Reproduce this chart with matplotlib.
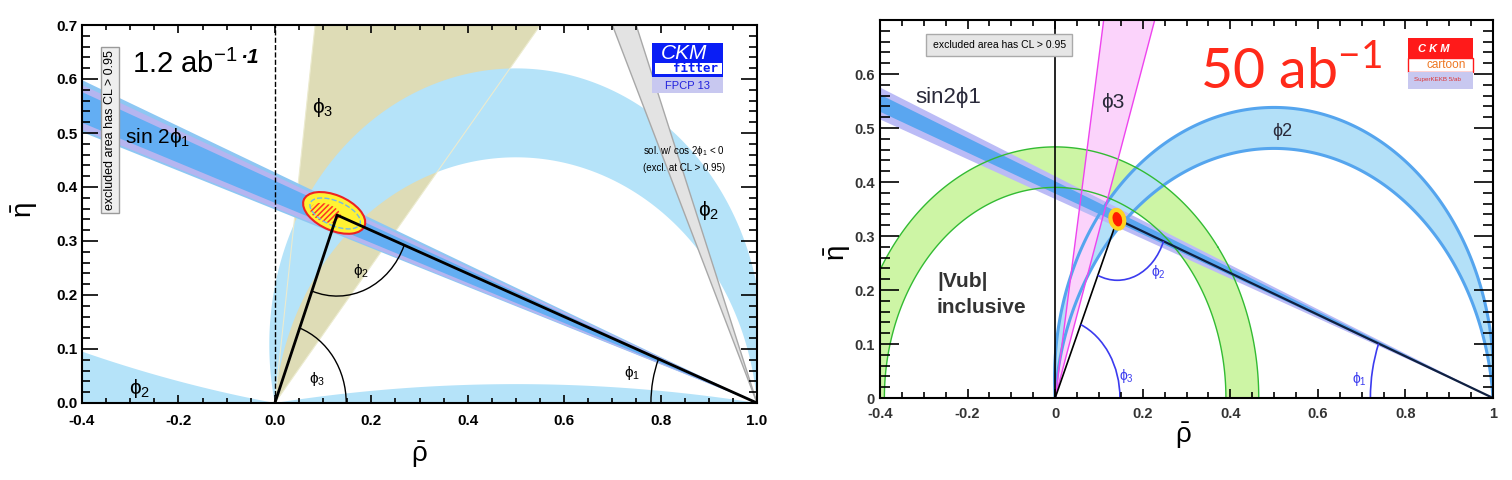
import numpy as np
import matplotlib.pyplot as plt
from matplotlib.patches import Ellipse, Arc, Rectangle
from matplotlib.ticker import MultipleLocator

plt.rcParams['font.family'] = ['Liberation Sans', 'DejaVu Sans']
plt.rcParams['mathtext.fontset'] = 'dejavusans'
plt.rcParams['mathtext.default'] = 'regular'
plt.rcParams['hatch.linewidth'] = 1.1

# ---------------- values ----------------
# left panel (CKMfitter style), constraints as angle ranges in degrees
L_apex = (0.129, 0.348)
L_phi1_bands = [(19.72, 23.13), (19.87, 22.82), (20.34, 22.36)]
L_phi1_colors = ['#8ec7f3', '#b5b5f0', '#63aef3']
L_phi1_mirror = (66.8, 70.3)
L_phi2_ranges = [(-0.1, 9.5), (172.0, 180.1)]
L_phi2_main = (77.8, 95.4)
L_phi3_range = (51.8, 83.2)
L_fit_center, L_fit_size = (0.123, 0.352), (0.135, 0.066)
L_fit1s_center, L_fit1s_size = (0.105, 0.352), (0.065, 0.034)
L_arc_r = [0.148, 0.15, 0.22]          # phi3, phi2, phi1

# right panel (CKM cartoon, 50 ab^-1)
R_apex = (0.142, 0.331)
R_phi1_bands = [(20.23, 22.33), (20.74, 21.87)]
R_phi1_colors = ['#bbbbf6', '#5aa6f0']
R_phi2_range = (85.8, 94.5)
R_phi3_range = (72.0, 81.0)
R_vub_range = (0.39, 0.465)
R_dot_size = (0.030, 0.036)
R_arc_r = [0.148, 0.113, 0.28]

L_xticklabels = ['-0.4', '-0.2', '0.0', '0.2', '0.4', '0.6', '0.8', '1.0']
L_yticklabels = ['0.0', '0.1', '0.2', '0.3', '0.4', '0.5', '0.6', '0.7']
R_xticklabels = ['-0.4', '-0.2', '0', '0.2', '0.4', '0.6', '0.8', '1']
R_yticklabels = ['0', '0.1', '0.2', '0.3', '0.4', '0.5', '0.6']

# ---------------- geometry grid ----------------
rho = np.linspace(-0.45, 1.05, 1501)
eta = np.linspace(0.0, 0.72, 721)
R, E = np.meshgrid(rho, eta)
with np.errstate(invalid='ignore', divide='ignore'):
    cosa = (-R * (1 - R) + E**2) / (np.hypot(R, E) * np.hypot(1 - R, E))
    alpha = np.degrees(np.arccos(np.clip(cosa, -1, 1)))
beta = np.degrees(np.arctan2(E, 1 - R))
gamma = np.degrees(np.arctan2(E, R))
rb = np.hypot(R, E)

W, H = 1512, 480
fig = plt.figure(figsize=(15.12, 4.8), dpi=100)


def fpos(x0, y0, x1, y1):
    return [x0 / W, 1 - y1 / H, (x1 - x0) / W, (y1 - y0) / H]


axL = fig.add_axes(fpos(82, 25, 757, 403))
axR = fig.add_axes(fpos(880, 20, 1493, 398))


def frame(ax, xl, yl, yt, color, fs, xlen, ylen, xpad, ypad):
    ax.set_xlim(-0.4, 1.0)
    ax.set_ylim(0, 0.7)
    ax.set_xticks(np.arange(-0.4, 1.01, 0.2))
    ax.set_xticklabels(xl, fontweight='bold', fontsize=fs, color=color)
    ax.set_yticks(yt)
    ax.set_yticklabels(yl, fontweight='bold', fontsize=fs, color=color)
    ax.xaxis.set_minor_locator(MultipleLocator(0.05))
    ax.yaxis.set_minor_locator(MultipleLocator(0.02))
    ax.tick_params(which='both', direction='in', top=True, right=True, width=1.2)
    ax.tick_params(axis='x', which='major', length=xlen[0], pad=xpad)
    ax.tick_params(axis='x', which='minor', length=xlen[1])
    ax.tick_params(axis='y', which='major', length=ylen[0], pad=ypad)
    ax.tick_params(axis='y', which='minor', length=ylen[1])
    for s in ax.spines.values():
        s.set_linewidth(1.5)
        s.set_zorder(20)
    ax.xaxis.set_zorder(20)
    ax.yaxis.set_zorder(20)


def band(ax, field, lo, hi, color, z):
    ax.contourf(R, E, field, levels=[lo, hi], colors=[color], zorder=z, antialiased=True)


# ================= left panel =================
ax = axL
for lo, hi in L_phi2_ranges:
    band(ax, alpha, lo, hi, '#b5e3f9', 1)
band(ax, gamma, L_phi3_range[0], L_phi3_range[1], '#dedcb6', 1.2)
band(ax, alpha, L_phi2_main[0], L_phi2_main[1], '#b5e3f9', 2)
ax.contour(R, E, gamma, levels=list(L_phi3_range), colors='#ecebcf', linewidths=0.8, zorder=2.5)
band(ax, beta, L_phi1_mirror[0], L_phi1_mirror[1], '#e3e3e3', 3)
ax.contour(R, E, beta, levels=list(L_phi1_mirror), colors='#a8a8a8', linewidths=1.0, zorder=3.1)
for (lo, hi), c, z in zip(L_phi1_bands, L_phi1_colors, [4, 4.1, 4.2]):
    band(ax, beta, lo, hi, c, z)
ax.plot([0, 0], [0, 0.7], ls='--', color='black', lw=1, zorder=7)

ax.add_patch(Ellipse(L_fit_center, L_fit_size[0], L_fit_size[1], angle=-20,
                     fc='#fff233', ec='#ee2222', lw=1.5, zorder=8))
ax.add_patch(Ellipse(L_fit1s_center, L_fit1s_size[0], L_fit1s_size[1], angle=-15,
                     fc='none', ec='#ff3322', hatch='//////', lw=0, zorder=8.5))
ax.add_patch(Ellipse((0.125, 0.351), 0.11, 0.046, angle=-20, fc='none',
                     ec='#74b9e6', ls='--', lw=1, zorder=8.6))

ax.plot([0, L_apex[0], 1], [0, L_apex[1], 0], color='black', lw=2, zorder=9)
g = np.degrees(np.arctan2(L_apex[1], L_apex[0]))
b = np.degrees(np.arctan2(L_apex[1], 1 - L_apex[0]))
ax.add_patch(Arc((0, 0), 2 * L_arc_r[0], 2 * L_arc_r[0], theta1=0, theta2=g, lw=1, color='black', zorder=9))
ax.add_patch(Arc(L_apex, 2 * L_arc_r[1], 2 * L_arc_r[1], theta1=180 + g, theta2=360 - b, lw=1, color='black', zorder=9))
ax.add_patch(Arc((1, 0), 2 * L_arc_r[2], 2 * L_arc_r[2], theta1=180 - b, theta2=180, lw=1, color='black', zorder=9))

ax.text(0.088, 0.044, 'ϕ$_3$', fontsize=11, ha='center', va='center', zorder=10)
ax.text(0.179, 0.244, 'ϕ$_2$', fontsize=11, ha='center', va='center', zorder=10)
ax.text(0.741, 0.056, 'ϕ$_1$', fontsize=11, ha='center', va='center', zorder=10)
ax.text(0.10, 0.548, 'ϕ$_3$', fontsize=15, ha='center', va='center', zorder=10)
ax.text(0.899, 0.357, 'ϕ$_2$', fontsize=15, ha='center', va='center', zorder=10)
ax.text(-0.28, 0.026, 'ϕ$_2$', fontsize=15, ha='center', va='center', zorder=10)
ax.text(-0.311, 0.492, 'sin 2ϕ$_1$', fontsize=15, ha='left', va='center', zorder=10)
ax.text(-0.296, 0.611, '1.2 ab$^{-1}$', fontsize=21, ha='left', va='baseline', zorder=10)
ax.text(-0.072, 0.63, '·1', fontsize=15, fontweight='bold', fontstyle='italic',
        ha='left', va='baseline', zorder=10)
ax.text(-0.342, 0.506, 'excluded area has CL > 0.95', rotation=90, fontsize=9,
        ha='center', va='center', zorder=12,
        bbox=dict(boxstyle='square,pad=0.25', fc='#eeeeee', ec='#9a9a9a', lw=1))
ax.text(0.764, 0.467, 'sol. w/ cos 2ϕ$_1$ < 0', fontsize=7, ha='left', va='center', zorder=10)
ax.text(0.764, 0.435, '(excl. at CL > 0.95)', fontsize=7, ha='left', va='center', zorder=10)

# CKMfitter logo
ax.add_patch(Rectangle((0.783, 0.604), 0.147, 0.063, fc='#0a1ef5', ec='none', zorder=12))
ax.add_patch(Rectangle((0.788, 0.609), 0.140, 0.021, fc='white', ec='none', zorder=12.1))
ax.add_patch(Rectangle((0.783, 0.574), 0.147, 0.030, fc='#c8c8f0', ec='none', zorder=12))
ax.text(0.848, 0.647, 'CKM', color='white', fontsize=15, fontstyle='italic',
        ha='center', va='center', zorder=13)
ax.text(0.872, 0.619, 'fitter', color='#0a1ef5', fontsize=9, fontweight='bold',
        family='DejaVu Sans Mono', ha='center', va='center', zorder=13)
ax.text(0.855, 0.587, 'FPCP 13', color='#2222dd', fontsize=8, ha='center', va='center', zorder=13)

frame(ax, L_xticklabels, L_yticklabels, np.arange(0, 0.71, 0.1), 'black', 11,
      (6, 3.8), (11.5, 5.8), 8, 3)

# ================= right panel =================
ax = axR
band(ax, rb, R_vub_range[0], R_vub_range[1], '#cdf5a5', 1)
band(ax, alpha, R_phi2_range[0], R_phi2_range[1], '#b3e0f8', 2)
band(ax, gamma, R_phi3_range[0], R_phi3_range[1], '#fbd3fb', 3)
for (lo, hi), c, z in zip(R_phi1_bands, R_phi1_colors, [4, 4.1]):
    band(ax, beta, lo, hi, c, z)
ax.contour(R, E, alpha, levels=list(R_phi2_range), colors='#55a5ee', linewidths=2.2, zorder=5)
ax.contour(R, E, rb, levels=list(R_vub_range), colors='#33bb33', linewidths=1.0, zorder=5)
ax.contour(R, E, gamma, levels=list(R_phi3_range), colors='#ee44ee', linewidths=1.0, zorder=5)
ax.plot([0, 0], [0, 0.7], color='black', lw=1.2, zorder=6)

ax.plot([0, R_apex[0]], [0, R_apex[1]], color='black', lw=1.2, zorder=7)
ax.plot([R_apex[0], 1], [R_apex[1], 0], color='#102040', lw=1.6, zorder=7)
ax.add_patch(Ellipse(R_apex, R_dot_size[0], R_dot_size[1], angle=30,
                     fc='#ff1a00', ec='#ffd21f', lw=3, zorder=8))
g = np.degrees(np.arctan2(R_apex[1], R_apex[0]))
b = np.degrees(np.arctan2(R_apex[1], 1 - R_apex[0]))
arc_c = '#3b3bef'
ax.add_patch(Arc((0, 0), 2 * R_arc_r[0], 2 * R_arc_r[0], theta1=0, theta2=g, lw=1.2, color=arc_c, zorder=9))
ax.add_patch(Arc(R_apex, 2 * R_arc_r[1], 2 * R_arc_r[1], theta1=180 + g, theta2=360 - b, lw=1.2, color=arc_c, zorder=9))
ax.add_patch(Arc((1, 0), 2 * R_arc_r[2], 2 * R_arc_r[2], theta1=180 - b, theta2=180, lw=1.2, color=arc_c, zorder=9))
ax.text(0.163, 0.041, 'ϕ$_3$', fontsize=10, color=arc_c, ha='center', va='center', zorder=10)
ax.text(0.236, 0.234, 'ϕ$_2$', fontsize=10, color=arc_c, ha='center', va='center', zorder=10)
ax.text(0.695, 0.035, 'ϕ$_1$', fontsize=10, color=arc_c, ha='center', va='center', zorder=10)

txt_c = '#2a2a3a'
ax.text(-0.32, 0.556, 'sin2ϕ1', fontsize=16, color=txt_c, ha='left', va='center', zorder=10)
ax.text(0.132, 0.547, 'ϕ3', fontsize=15, color=txt_c, ha='center', va='center', zorder=10)
ax.text(0.518, 0.493, 'ϕ2', fontsize=13, color=txt_c, ha='center', va='center', zorder=10)
ax.text(-0.27, 0.215, '|Vub|', fontsize=15, fontweight='bold', color='#333333',
        ha='left', va='center', zorder=10)
ax.text(-0.27, 0.167, 'inclusive', fontsize=15, fontweight='bold', color='#333333',
        ha='left', va='center', zorder=10)
ax.text(-0.128, 0.654, 'excluded area has CL > 0.95', fontsize=7.5, ha='center', va='center',
        zorder=12, bbox=dict(boxstyle='square,pad=0.6', fc='#e6e6e6', ec='#aaaaaa', lw=1))
ax.text(0.331, 0.572, '50 ab$^{-1}$', fontsize=40, family='Lato', color='#ff2a1a',
        ha='left', va='baseline', zorder=12)

# CKM cartoon logo
ax.add_patch(Rectangle((0.806, 0.630), 0.148, 0.037, fc='#ff1a1a', ec='none', zorder=12))
ax.add_patch(Rectangle((0.806, 0.604), 0.148, 0.026, fc='white', ec='#ff1a1a', lw=1, zorder=12))
ax.add_patch(Rectangle((0.806, 0.572), 0.148, 0.032, fc='#c8c8f0', ec='none', zorder=12))
ax.text(0.864, 0.646, 'C K M', color='white', fontsize=8, fontweight='bold', fontstyle='italic',
        ha='center', va='center', zorder=13)
ax.text(0.894, 0.617, 'cartoon', color='#ee7722', fontsize=8.5, ha='center', va='center', zorder=13)
ax.text(0.873, 0.589, 'SuperKEKB 5/ab', color='#dd3333', fontsize=4.5, ha='center', va='center', zorder=13)

frame(ax, R_xticklabels, R_yticklabels, np.arange(0, 0.61, 0.1), '#333333', 10.5,
      (6.5, 4.3), (14, 7), 6.5, 3.6)

# axis titles
fig.text(419 / W, 1 - 455 / H, r'$\bar{\rho}$', fontsize=20, ha='center', va='center')
fig.text(25 / W, 1 - 210 / H, r'$\bar{\eta}$', fontsize=20, rotation=90, ha='center', va='center')
fig.text(1183 / W, 1 - 436 / H, r'$\bar{\rho}$', fontsize=20, ha='center', va='center')
fig.text(838 / W, 1 - 253 / H, r'$\bar{\eta}$', fontsize=20, rotation=90, ha='center', va='center')

fig.savefig('out.png', dpi=100)
